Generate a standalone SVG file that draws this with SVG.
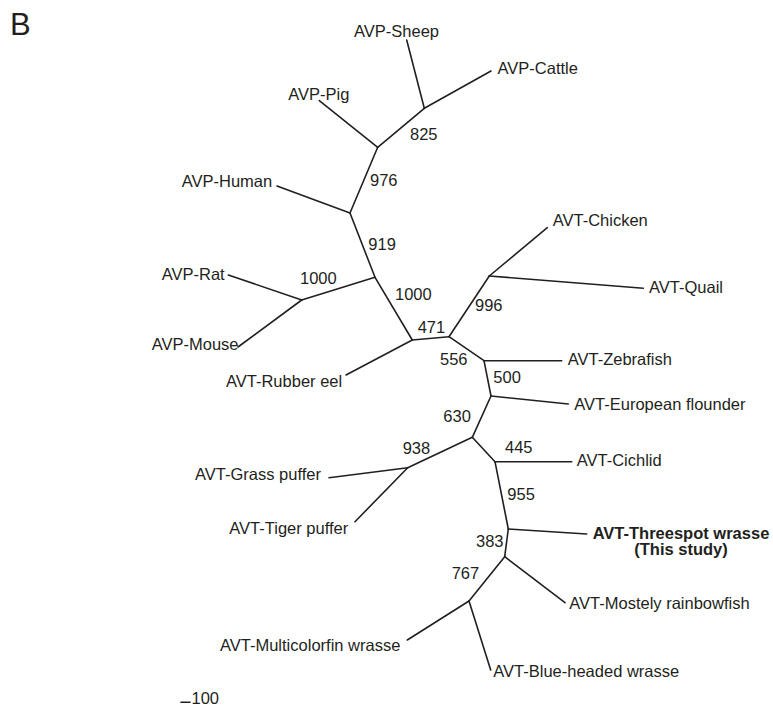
<svg xmlns="http://www.w3.org/2000/svg" width="773" height="707" viewBox="0 0 773 707">
<style>
text{font-family:"Liberation Sans",Arial,sans-serif;font-size:16.5px;fill:#231f20}
.b{font-weight:bold}
.e line{stroke:#231f20;stroke-width:1.6;stroke-linecap:round}
</style>
<rect width="773" height="707" fill="#fff"/>
<text x="10" y="35" style="font-size:31px">B</text>
<g class="e" id="connectors">
<line x1="406.7" y1="40" x2="424.3" y2="108.3"/>
<line x1="491" y1="71" x2="424.3" y2="108.3"/>
<line x1="424.3" y1="108.3" x2="377.7" y2="147.3"/>
<line x1="319.3" y1="100.7" x2="377.7" y2="147.3"/>
<line x1="377.7" y1="147.3" x2="350" y2="213"/>
<line x1="277" y1="186" x2="350" y2="213"/>
<line x1="350" y1="213" x2="375" y2="277.3"/>
<line x1="375" y1="277.3" x2="301.7" y2="300"/>
<line x1="228.3" y1="275" x2="301.7" y2="300"/>
<line x1="238" y1="347" x2="301.7" y2="300"/>
<line x1="375" y1="277.3" x2="412.3" y2="340"/>
<line x1="346" y1="375" x2="412.3" y2="340"/>
<line x1="412.3" y1="340" x2="449" y2="336.7"/>
<line x1="449" y1="336.7" x2="489.3" y2="276"/>
<line x1="547.3" y1="227.7" x2="489.3" y2="276"/>
<line x1="643.3" y1="288.3" x2="489.3" y2="276"/>
<line x1="449" y1="336.7" x2="484" y2="360.7"/>
<line x1="561.7" y1="360.7" x2="484" y2="360.7"/>
<line x1="484" y1="360.7" x2="491" y2="396"/>
<line x1="568.3" y1="404" x2="491" y2="396"/>
<line x1="491" y1="396" x2="472.3" y2="437.3"/>
<line x1="472.3" y1="437.3" x2="407.7" y2="467.7"/>
<line x1="329" y1="477.7" x2="407.7" y2="467.7"/>
<line x1="355" y1="521.7" x2="407.7" y2="467.7"/>
<line x1="472.3" y1="437.3" x2="495" y2="461.7"/>
<line x1="571.7" y1="461.7" x2="495" y2="461.7"/>
<line x1="495" y1="461.7" x2="508.3" y2="529"/>
<line x1="586.7" y1="534" x2="508.3" y2="529"/>
<line x1="508.3" y1="529" x2="504.7" y2="556.7"/>
<line x1="565" y1="602.7" x2="504.7" y2="556.7"/>
<line x1="504.7" y1="556.7" x2="469" y2="601"/>
<line x1="407.3" y1="640" x2="469" y2="601"/>
<line x1="490.7" y1="670" x2="469" y2="601"/>
<line x1="181" y1="702.3" x2="190" y2="702.3"/>
</g>
<g id="leaf-sheep"><text x="354" y="37">AVP-Sheep</text></g>
<g id="leaf-cattle"><text x="497.5" y="74">AVP-Cattle</text></g>
<g id="leaf-pig"><text x="288.3" y="99.5">AVP-Pig</text></g>
<g id="leaf-human"><text x="181.7" y="187">AVP-Human</text></g>
<g id="leaf-rat"><text x="161.7" y="279.5">AVP-Rat</text></g>
<g id="leaf-mouse"><text x="151.7" y="349.5">AVP-Mouse</text></g>
<g id="leaf-eel"><text x="226" y="387">AVT-Rubber eel</text></g>
<g id="leaf-chicken"><text x="552.7" y="226">AVT-Chicken</text></g>
<g id="leaf-quail"><text x="649" y="292.5">AVT-Quail</text></g>
<g id="leaf-zebrafish"><text x="567.7" y="364.5">AVT-Zebrafish</text></g>
<g id="leaf-flounder"><text x="574.3" y="409.5">AVT-European flounder</text></g>
<g id="leaf-grass"><text x="195" y="480">AVT-Grass puffer</text></g>
<g id="leaf-tiger"><text x="229.3" y="533.5">AVT-Tiger puffer</text></g>
<g id="leaf-cichlid"><text x="576.7" y="466">AVT-Cichlid</text></g>
<g id="leaf-threespot"><text class="b" x="681" y="538.5" text-anchor="middle">AVT-Threespot wrasse</text><text class="b" x="681" y="555" text-anchor="middle">(This study)</text></g>
<g id="leaf-rainbowfish"><text x="569.3" y="608.5">AVT-Mostely rainbowfish</text></g>
<g id="leaf-multicolorfin"><text x="220" y="651">AVT-Multicolorfin wrasse</text></g>
<g id="leaf-blueheaded"><text x="493.3" y="677">AVT-Blue-headed wrasse</text></g>
<g id="node-825"><text x="410" y="140">825</text></g>
<g id="node-976"><text x="370" y="186">976</text></g>
<g id="node-919"><text x="368.3" y="249.5">919</text></g>
<g id="node-1000a"><text x="300" y="284">1000</text></g>
<g id="node-1000b"><text x="395" y="299.5">1000</text></g>
<g id="node-471"><text x="417.7" y="332.7">471</text></g>
<g id="node-556"><text x="440" y="365">556</text></g>
<g id="node-996"><text x="475" y="311">996</text></g>
<g id="node-500"><text x="493.3" y="382.7">500</text></g>
<g id="node-630"><text x="443.3" y="421.7">630</text></g>
<g id="node-938"><text x="402.7" y="454">938</text></g>
<g id="node-445"><text x="505" y="453.3">445</text></g>
<g id="node-955"><text x="507.3" y="500">955</text></g>
<g id="node-383"><text x="476" y="546.7">383</text></g>
<g id="node-767"><text x="451.7" y="579.3">767</text></g>
<g id="scale"><text x="191.5" y="704">100</text></g>
</svg>
